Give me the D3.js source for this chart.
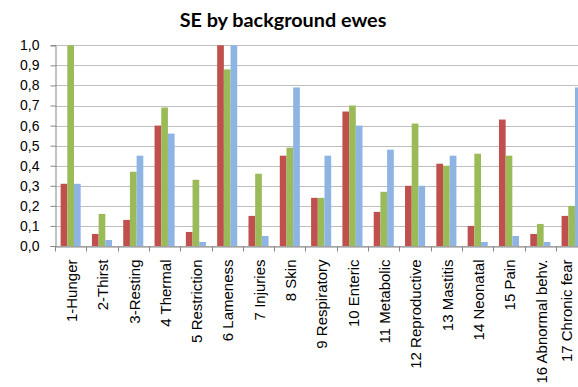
<!DOCTYPE html>
<html>
<head>
<meta charset="utf-8">
<script src="https://cdn.jsdelivr.net/npm/d3@7"></script>
<style>
  html, body { margin: 0; padding: 0; background: #fff; }
  svg { display: block; font-family: Lato, "Open Sans", sans-serif; }
</style>
</head>
<body>
<svg id="chart" width="578" height="387"></svg>
<script>
// Welfare categories on the x axis
const categories = [
  "1-Hunger", "2-Thirst", "3-Resting", "4 Thermal", "5 Restriction",
  "6 Lameness", "7 Injuries", "8 Skin", "9 Respiratory", "10 Enteric",
  "11 Metabolic", "12 Reproductive", "13 Mastitis", "14 Neonatal",
  "15 Pain", "16 Abnormal behv.", "17 Chronic fear"
];

// Three series of SE values, one value per category
const seriesRed = [0.31, 0.06, 0.13, 0.60, 0.07, 1.00, 0.15, 0.45, 0.24, 0.67, 0.17, 0.30, 0.41, 0.10, 0.63, 0.06, 0.15];
const seriesGreen = [1.00, 0.16, 0.37, 0.69, 0.33, 0.88, 0.36, 0.49, 0.24, 0.70, 0.27, 0.61, 0.40, 0.46, 0.45, 0.11, 0.20];
const seriesBlue = [0.31, 0.03, 0.45, 0.56, 0.02, 1.00, 0.05, 0.79, 0.45, 0.60, 0.48, 0.30, 0.45, 0.02, 0.05, 0.02, 0.79];

const seriesColors = ["#C0504D", "#9BBB59", "#8DB4E3"];

// Y axis ticks
const yTicks = [0, 0.1, 0.2, 0.3, 0.4, 0.5, 0.6, 0.7, 0.8, 0.9, 1.0];

const title = "SE by background ewes";

const svg = d3.select("#chart");
const plotLeft = 55, plotTop = 45.3, plotBottom = 246, step = 31.31;
const plotRight = plotLeft + step * categories.length;

const x = d3.scaleBand().domain(categories).range([plotLeft, plotRight]).paddingInner(0).paddingOuter(0);
const xSub = d3.scaleBand().domain([0, 1, 2]).range([0, x.bandwidth()]).paddingInner(0).paddingOuter(0.84);
const y = d3.scaleLinear().domain([0, 1]).range([plotBottom, plotTop]);

// Gridlines
svg.append("g")
  .selectAll("line")
  .data(yTicks)
  .join("line")
  .attr("x1", plotLeft).attr("x2", plotRight)
  .attr("y1", d => Math.round(y(d)) + 0.5).attr("y2", d => Math.round(y(d)) + 0.5)
  .attr("stroke", "#BFBFBF").attr("stroke-width", 1);

// Bars
const rows = categories.map((c, i) => ({ cat: c, vals: [seriesRed[i], seriesGreen[i], seriesBlue[i]] }));
const groups = svg.append("g")
  .selectAll("g")
  .data(rows)
  .join("g")
  .attr("transform", d => `translate(${x(d.cat)},0)`);
groups.selectAll("rect")
  .data(d => d.vals.map((v, k) => ({ k, v })))
  .join("rect")
  .attr("x", d => xSub(d.k))
  .attr("width", xSub.bandwidth())
  .attr("y", d => y(d.v))
  .attr("height", d => y(0) - y(d.v))
  .attr("fill", d => seriesColors[d.k]);

// Y axis
const yAxis = svg.append("g")
  .attr("transform", `translate(${plotLeft + 0.5},0)`)
  .call(d3.axisLeft(y).tickValues(yTicks).tickSize(5).tickPadding(11)
    .tickFormat(d => d3.format(".1f")(d).replace(".", ",")));
yAxis.select(".domain").attr("stroke", "#868686");
yAxis.selectAll(".tick line").attr("stroke", "#868686");
yAxis.selectAll("text").attr("font-size", 14).attr("fill", "#000");

// X axis: baseline, boundary ticks and rotated labels
const xAxis = svg.append("g")
  .attr("transform", `translate(0,${Math.round(y(0)) + 0.5})`)
  .call(d3.axisBottom(x).tickSize(0).tickPadding(0));
xAxis.select(".domain").attr("stroke", "#868686");
const lastIndex = categories.length - 1;
xAxis.selectAll(".tick text")
  .attr("font-size", 15)
  .attr("fill", "#000")
  .attr("text-anchor", "end")
  .attr("transform", "rotate(-90)")
  .attr("x", -13)
  // the last label is nudged left so it stays inside the frame
  .attr("y", (d, i) => i === lastIndex ? -4.5 : 1)
  .attr("dy", "0.35em");
xAxis.append("g")
  .selectAll("line")
  .data(d3.range(categories.length + 1))
  .join("line")
  .attr("x1", i => Math.round(plotLeft + i * step) + 0.5)
  .attr("x2", i => Math.round(plotLeft + i * step) + 0.5)
  .attr("y1", 0).attr("y2", 5)
  .attr("stroke", "#868686");

// Title
svg.append("text")
  .attr("x", 283)
  .attr("y", 27)
  .attr("text-anchor", "middle")
  .attr("font-size", 19.8)
  .attr("font-weight", "bold")
  .attr("fill", "#000")
  .text(title);
</script>
</body>
</html>
